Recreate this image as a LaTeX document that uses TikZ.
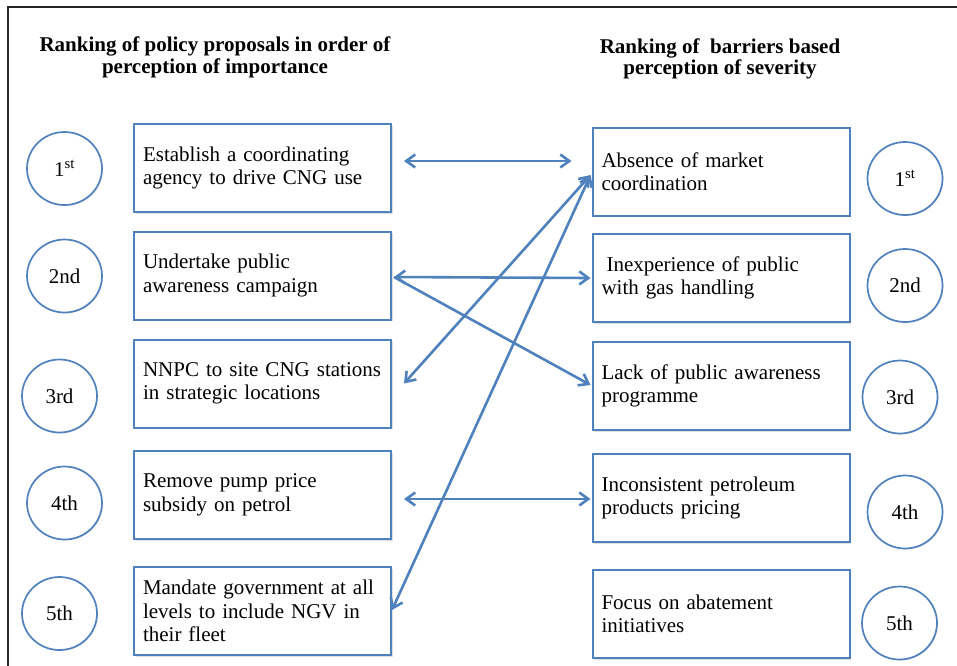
\documentclass[tikz,border=0pt]{standalone}
\usepackage{fontspec}
\setmainfont{Liberation Serif}
\usetikzlibrary{shapes.geometric,arrows.meta,shadows}
\definecolor{ofblue}{RGB}{79,129,189}
\begin{document}
\begin{tikzpicture}[x=1pt,y=-1pt,
  box/.style={draw=ofblue, line width=2pt, fill=white, rectangle,
    minimum width=257pt, minimum height=88pt, text width=239pt, inner xsep=9pt, inner ysep=0pt,
    align=left, font=\fontsize{21}{23.5}\selectfont,
    drop shadow={shadow xshift=1.5pt, shadow yshift=-1.5pt, opacity=0.25}},
  rank/.style={draw=ofblue, line width=1.7pt, fill=white, ellipse, inner sep=0pt,
    minimum width=75pt, minimum height=73pt, font=\fontsize{21}{23.5}\selectfont,
    drop shadow={shadow xshift=1pt, shadow yshift=-1pt, opacity=0.2}},
  ttl/.style={align=center, inner sep=0pt, font=\fontsize{21}{21.5}\selectfont\bfseries},
  link/.style={draw=ofblue, line width=2.6pt, {Straight Barb[length=9pt,width=13pt]}-{Straight Barb[length=9pt,width=13pt]}},
  onelink/.style={draw=ofblue, line width=2.6pt, -{Straight Barb[length=9pt,width=13pt]}}
]
\useasboundingbox (0,0) rectangle (957,665);
% frame
\coordinate (fb) at (8,666);
\coordinate (fc) at (8,7);
\coordinate (fr) at (958,7);
\draw[line width=2.4pt, black!85] (fb) -- (fc) -- (fr);

% titles
\node[ttl] (tl) at (215,57.5) {Ranking of policy proposals in order of\\perception of importance};
\node[ttl] (tr) at (720,59) {Ranking of~ barriers based\\perception of severity};

% left boxes
\node[box] (L1) at (262.5,168) {Establish a coordinating\\agency to drive CNG use};
\node[box] (L2) at (262.5,275.5) {Undertake public\\awareness campaign};
\node[box] (L3) at (262.5,383.5) {NNPC to site CNG stations\\in strategic locations};
\node[box] (L4) at (262.5,495) {Remove pump price\\subsidy on petrol};
\node[box] (L5) at (262.5,611) {Mandate government at all\\levels to include NGV in\\their fleet};

% right boxes
\node[box] (R1) at (721,171.5) {Absence of market\\coordination};
\node[box] (R2) at (721,278) {\hspace*{5pt}Inexperience of public\\with gas handling};
\node[box] (R3) at (721,386) {Lack of public awareness\\programme};
\node[box] (R4) at (721,498) {Inconsistent petroleum\\products pricing};
\node[box] (R5) at (721,614) {Focus on abatement\\initiatives};

% left rank circles
\node[rank] (c1) at (64.5,168.5) {1\textsuperscript{st}};
\node[rank] (c2) at (64.5,276) {2nd};
\node[rank] (c3) at (59.5,396) {3rd};
\node[rank] (c4) at (64.5,503) {4th};
\node[rank] (c5) at (59.5,613.5) {5th};

% right rank circles
\node[rank] (d1) at (905,178.5) {1\textsuperscript{st}};
\node[rank] (d2) at (905,285.5) {2nd};
\node[rank] (d3) at (900,397) {3rd};
\node[rank] (d4) at (905,512) {4th};
\node[rank] (d5) at (899.5,623) {5th};

% connectors
\draw[link] ([xshift=12pt,yshift=7pt]L1.east) -- ([xshift=-20pt,yshift=10.5pt]R1.west);
\draw[link] ([xshift=2pt,yshift=-1.5pt]L2.east) -- ([xshift=-1pt]R2.west);
\draw[onelink] ([xshift=2pt,yshift=-1.5pt]L2.east) -- ([xshift=-1pt,yshift=1pt]R3.west);
\draw[link] ([xshift=-1pt,yshift=-3.5pt]R1.west) -- ([xshift=12pt]L3.east);
\draw[link] ([xshift=-1pt,yshift=-3.5pt]R1.west) -- ([xshift=0pt,yshift=1pt]L5.east);
\draw[link] ([xshift=12pt,yshift=-4pt]L4.east) -- ([xshift=-1pt,yshift=-1pt]R4.west);
\end{tikzpicture}
\end{document}
